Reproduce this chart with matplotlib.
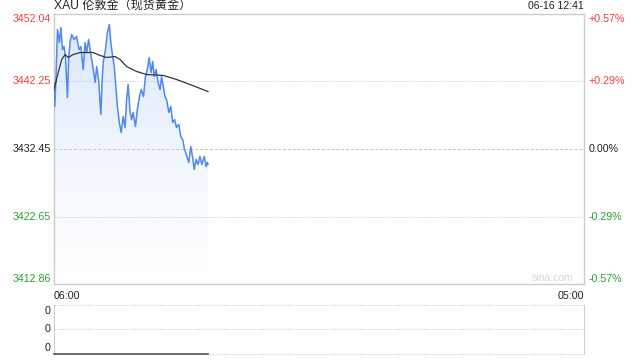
import numpy as np
import matplotlib
matplotlib.use('Agg')
from matplotlib import pyplot as plt
from matplotlib.colors import LinearSegmentedColormap

plt.rcParams['font.family'] = ['Liberation Sans', 'Noto Sans CJK SC', 'DejaVu Sans']

# minutes after 06:00, price of XAU
minutes = [0, 2, 5, 9, 14, 18, 22, 26, 30, 35, 38, 42, 46, 52, 59, 65, 70, 76,
           81, 85, 90, 96, 101, 107, 111, 116, 122, 125, 128, 134, 139, 144,
           148, 153, 157, 161, 165, 170, 175, 180, 185, 189, 193, 198, 202,
           206, 212, 217, 222, 227, 233, 238, 243, 248, 253, 257, 261, 266,
           271, 276, 280, 285, 289, 293, 299, 304, 309, 314, 319, 325, 330,
           335, 340, 346, 351, 356, 361, 365, 370, 375, 380, 385, 391, 396,
           399, 401]
price = [3442.10, 3438.62, 3442.54, 3449.79, 3447.90, 3450.08, 3446.89,
         3447.32, 3445.73, 3439.92, 3445.44, 3448.05, 3449.07, 3448.34,
         3448.78, 3446.89, 3447.32, 3443.99, 3447.90, 3446.45, 3448.34,
         3446.16, 3444.42, 3442.10, 3444.42, 3442.54, 3437.46, 3442.10,
         3445.00, 3446.89, 3449.36, 3450.52, 3447.90, 3445.73, 3444.42,
         3441.52, 3438.62, 3436.30, 3434.84, 3437.17, 3435.57, 3439.63,
         3441.81, 3437.89, 3436.73, 3437.75, 3435.72, 3438.18, 3439.92,
         3441.08, 3440.07, 3442.97, 3443.99, 3445.73, 3443.55, 3445.15,
         3442.97, 3443.99, 3442.10, 3441.08, 3442.97, 3441.37, 3440.07,
         3439.63, 3437.75, 3438.62, 3436.30, 3436.73, 3435.57, 3436.01,
         3434.26, 3433.83, 3432.38, 3431.36, 3430.49, 3432.81, 3431.22,
         3429.48, 3430.93, 3430.20, 3431.36, 3430.20, 3431.36, 3429.91,
         3430.50, 3430.20]

avg_minutes = [0, 11, 20, 29, 37, 50, 68, 102, 120, 137, 159, 172, 189, 215,
               241, 285, 319, 354, 401]
avg_price = [3441.08, 3443.55, 3445.44, 3446.16, 3445.73, 3446.16, 3446.45,
             3446.45, 3446.02, 3445.73, 3445.87, 3445.44, 3444.42, 3443.70,
             3443.26, 3443.12, 3442.54, 3441.81, 3440.79]

volume = [0] * len(minutes)

prev_close = 3432.45
price_ticks = [3412.86, 3422.65, 3432.45, 3442.25, 3452.04]
pct_labels = ['-0.57%', '-0.29%', '0.00%', '+0.29%', '+0.57%']
total_minutes = 1380  # 06:00 -> 05:00

RED = '#f23a3a'
GREEN = '#2aa12a'
DARK = '#222222'
LINE = '#4f88ee'
SPINE = '#cccccc'


def tick_color(v):
    if v > prev_close + 0.001:
        return RED
    if v < prev_close - 0.001:
        return GREEN
    return DARK


fig = plt.figure(figsize=(6.4, 3.6), dpi=100)
ax = fig.add_axes([0.0844, 0.2111, 0.8281, 0.75])
ax.set_xlim(0, total_minutes)
ax.set_ylim(price_ticks[0], price_ticks[-1])

# gradient fill under the price line
cmap = LinearSegmentedColormap.from_list('fade', ['#ffffff', '#f0f5fd', '#d9e6fa'])
grad = np.linspace(0, 1, 256).reshape(-1, 1)
img = ax.imshow(grad, cmap=cmap, origin='lower', aspect='auto',
                extent=[0, total_minutes, 3414.0, price_ticks[-1]], zorder=1)
poly = ax.fill_between(minutes, price, price_ticks[0], color='none')
img.set_clip_path(poly.get_paths()[0], transform=ax.transData)

ax.plot(minutes, price, color=LINE, lw=1.1, zorder=3)
ax.plot(avg_minutes, avg_price, color='#333333', lw=0.9, zorder=4)

for v in price_ticks[1:-1]:
    if v == prev_close:
        ax.axhline(v, color='#c4c4c4', lw=0.7, ls=(0, (3, 2)), zorder=2)
    else:
        ax.axhline(v, color='#c8c8c8', lw=0.7, ls=(0, (1, 1.5)), zorder=2)

for s in ax.spines.values():
    s.set_color(SPINE)
    s.set_linewidth(1.0)
ax.set_xticks([])
ax.set_yticks([])

# left price labels and right percent labels
for i, v in enumerate(price_ticks):
    va = 'center'
    if i == 0:
        va = 'bottom'
    elif i == len(price_ticks) - 1:
        va = 'top'
    c = tick_color(v)
    ax.text(-0.006, v, '%.2f' % v, transform=ax.get_yaxis_transform(),
            ha='right', va=va, fontsize=7.7, color=c)
    ax.text(1.008, v, pct_labels[i], transform=ax.get_yaxis_transform(),
            ha='left', va=va, fontsize=7.7, color=c)

ax.text(0.0, 1.008, 'XAU 伦敦金（现货黄金）', transform=ax.transAxes,
        ha='left', va='bottom', fontsize=8.7, color=DARK)
ax.text(1.0, 1.01, '06-16 12:41', transform=ax.transAxes,
        ha='right', va='bottom', fontsize=7.5, color=DARK)
ax.text(0.979, 0.005, 'sina.com', transform=ax.transAxes,
        ha='right', va='bottom', fontsize=7.5, color='#d4d4d4')
ax.text(0.0, -0.025, '06:00', transform=ax.transAxes,
        ha='left', va='top', fontsize=7.7, color=DARK)
ax.text(1.0, -0.025, '05:00', transform=ax.transAxes,
        ha='right', va='top', fontsize=7.7, color=DARK)

# volume panel
vax = fig.add_axes([0.0844, 0.0167, 0.8281, 0.1361])
vax.set_xlim(0, total_minutes)
vax.set_ylim(0, 1)
vax.plot(minutes, volume, color='#555555', lw=1.2, zorder=3, clip_on=False)
for v in [0, 0.5, 1]:
    vax.axhline(v, color='#c8c8c8', lw=0.8, ls=(0, (1, 1.5)), zorder=2,
                clip_on=False)
vax.spines['top'].set_visible(False)
vax.spines['bottom'].set_visible(False)
vax.spines['left'].set_color(SPINE)
vax.spines['right'].set_color(SPINE)
vax.set_xticks([])
vax.set_yticks([])
for v in [0.88, 0.5, 0.12]:
    vax.text(-0.006, v, '0', transform=vax.get_yaxis_transform(),
             ha='right', va='center', fontsize=7.7, color=DARK)

fig.savefig('out.png', dpi=100)
